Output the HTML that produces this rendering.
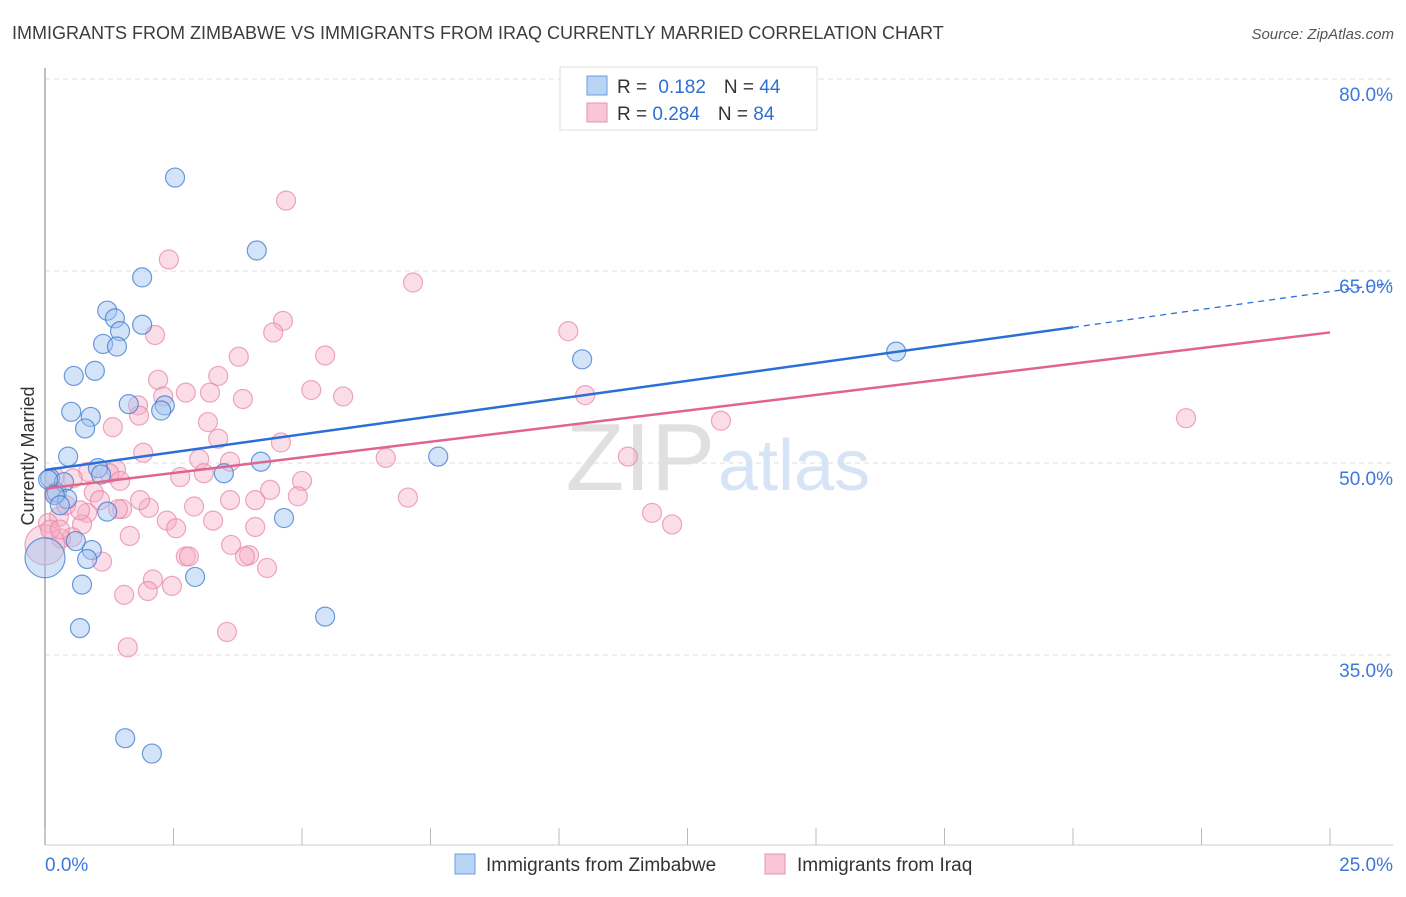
<!DOCTYPE html>
<html><head><meta charset="utf-8">
<style>
body{margin:0;background:#fff;font-family:"Liberation Sans",sans-serif;}
svg text{font-family:"Liberation Sans",sans-serif;}
</style></head>
<body>
<svg id="chart" width="1406" height="892" xmlns="http://www.w3.org/2000/svg">
<text x="12" y="39" font-size="18" fill="#3c3c3c">IMMIGRANTS FROM ZIMBABWE VS IMMIGRANTS FROM IRAQ CURRENTLY MARRIED CORRELATION CHART</text>
<text x="1394" y="39" font-size="15" font-style="italic" fill="#555" text-anchor="end">Source: ZipAtlas.com</text>
<g id="grid"></g>
<text x="715" y="490" font-size="96" fill="#e0e0e0" text-anchor="end" font-family="Liberation Serif">ZIP</text>
<text x="718" y="490" font-size="72" fill="#d6e4f5">atlas</text>
<line x1="45" y1="68" x2="45" y2="845" stroke="#aaa" stroke-width="1.5"/>
<line x1="45" y1="845" x2="1393" y2="845" stroke="#ccc" stroke-width="1"/>
<text transform="translate(34,456) rotate(-90)" font-size="18" fill="#333" text-anchor="middle">Currently Married</text>
<g id="ticks"></g>
<g id="points"></g>
<g id="trends"></g>
<g>
<rect x="560" y="67" width="257" height="63" fill="#fff" stroke="#ddd"/>
<rect x="587" y="76" width="20" height="19" fill="#b8d4f5" stroke="#6b9de0"/>
<rect x="587" y="103" width="20" height="19" fill="#f9c6d5" stroke="#e892ad"/>
<text x="617" y="93" font-size="19" fill="#333">R = <tspan fill="#2f6fd3" dx="6">0.182</tspan><tspan dx="18" fill="#333">N = </tspan><tspan fill="#2f6fd3">44</tspan></text>
<text x="617" y="120" font-size="19" fill="#333">R = <tspan fill="#2f6fd3">0.284</tspan><tspan dx="18" fill="#333">N = </tspan><tspan fill="#2f6fd3">84</tspan></text>
</g>
<g>
<rect x="455" y="854" width="20" height="20" fill="#b8d4f5" stroke="#6b9de0"/>
<text x="486" y="871" font-size="19" fill="#333">Immigrants from Zimbabwe</text>
<rect x="765" y="854" width="20" height="20" fill="#f9c6d5" stroke="#e892ad"/>
<text x="797" y="871" font-size="19" fill="#333">Immigrants from Iraq</text>
</g>
</svg>
<script>
const blueX=[2.53,4.12,1.89,1.21,1.36,1.46,1.89,1.13,1.40,0.97,0.56,1.63,2.33,2.26,0.51,0.89,0.78,0.45,1.03,1.09,4.20,3.48,0.10,0.23,0.37,0.43,1.21,4.65,0.60,0.91,0.82,2.92,0.72,0.68,5.45,1.56,2.08,10.45,7.65,16.56,0,0.06,0.19,0.29];
const blueY=[72.3,66.6,64.5,61.9,61.3,60.3,60.8,59.3,59.1,57.2,56.8,54.6,54.5,54.1,54.0,53.6,52.7,50.5,49.6,49.1,50.1,49.2,48.8,47.7,48.5,47.2,46.2,45.7,43.9,43.2,42.5,41.1,40.5,37.1,38.0,28.5,27.3,58.1,50.5,58.7,42.6,48.7,47.5,46.7];
const pinkX=[4.69,2.41,7.16,4.63,4.44,2.14,10.18,3.77,5.45,3.37,2.20,2.74,3.21,5.18,2.30,3.85,5.80,10.51,1.81,1.83,3.17,1.32,13.15,22.20,3.37,4.59,1.91,3.00,3.60,6.63,11.34,1.38,0.84,1.25,3.09,2.63,5.00,0.54,0.95,0.19,4.92,7.06,4.09,2.90,2.02,1.50,1.42,0.82,0.27,0.06,2.37,0.72,2.55,3.27,4.09,1.65,0.53,0.31,3.62,2.74,2.80,3.97,3.89,4.32,1.11,2.10,2.00,1.54,2.47,3.54,1.61,11.81,12.20,0,0.10,0.29,0.41,1.07,1.85,3.60,4.38,1.46,0.68,0.19];
const pinkY=[70.5,65.9,64.1,61.1,60.2,60.0,60.3,58.3,58.4,56.8,56.5,55.5,55.5,55.7,55.2,55.0,55.2,55.3,54.5,53.7,53.2,52.8,53.3,53.5,51.9,51.6,50.8,50.3,50.1,50.4,50.5,49.5,49.3,49.2,49.2,48.9,48.6,48.8,47.7,47.7,47.4,47.3,47.1,46.6,46.5,46.4,46.4,46.1,45.8,45.3,45.5,45.2,44.9,45.5,45.0,44.3,44.2,44.1,43.6,42.7,42.7,42.8,42.7,41.8,42.3,40.9,40.0,39.7,40.4,36.8,35.6,46.1,45.2,43.6,44.8,44.8,46.7,47.1,47.1,47.1,47.9,48.6,46.3,48.9];
const yTicks=[35,50,65,80];
const yTickLabels=["35.0%","50.0%","65.0%","80.0%"];
const xTicks=[0,2.5,5,7.5,10,12.5,15,17.5,20,22.5,25];
const xEndLabels=["0.0%","25.0%"];
const blueTrend=[49.45,60.6]; // y at x=0 and x=20
const pinkTrend=[48.0,60.2];  // y at x=0 and x=25
const NS="http://www.w3.org/2000/svg";
const sx=v=>45+v*51.4;
const sy=v=>463-(v-50)*12.8;
function mk(tag,attrs,parent){const e=document.createElementNS(NS,tag);for(const k in attrs)e.setAttribute(k,attrs[k]);parent.appendChild(e);return e;}
const grid=document.getElementById('grid'),ticks=document.getElementById('ticks');
yTicks.forEach((t,i)=>{
 const l=mk('line',{x1:45,x2:1393,y1:sy(t),y2:sy(t),stroke:'#ddd','stroke-dasharray':'5,4'},grid);
 
 
 const tx=mk('text',{x:1393,y:sy(t)+22,'font-size':19,fill:'#3c78d8','text-anchor':'end'},ticks);
 tx.textContent=yTickLabels[i];
 
 
});
xTicks.forEach(t=>{
 const l=mk('line',{x1:sx(t),x2:sx(t),y1:828,y2:845,stroke:'#bbb'},ticks);
 
 
});
[[0,'start'],[25,'end']].forEach((p,i)=>{
 const tx=mk('text',{x:i?1393:45,y:871,'font-size':19,fill:'#3c78d8','text-anchor':p[1]},ticks);
 tx.textContent=xEndLabels[i];
 
 
});
const pts=document.getElementById('points');
pinkX.forEach((x,i)=>{
 const r=(x===0)?20:9.5;
 const c=mk('circle',{cx:sx(x),cy:sy(pinkY[i]),r:r,fill:'rgba(246,170,195,0.4)',stroke:'rgba(232,130,165,0.7)','stroke-width':1.2},pts);
 
 
});
blueX.forEach((x,i)=>{
 const r=(x===0)?20:9.5;
 const c=mk('circle',{cx:sx(x),cy:sy(blueY[i]),r:r,fill:'rgba(160,196,240,0.45)',stroke:'rgba(60,120,210,0.75)','stroke-width':1.2},pts);
 
 
});
const tr=document.getElementById('trends');
const bSlope=(blueTrend[1]-blueTrend[0])/20;
const b1=mk('line',{x1:sx(0),y1:sy(blueTrend[0]),x2:sx(20),y2:sy(blueTrend[1]),stroke:'#2a6fd6','stroke-width':2.5},tr);


const b2=mk('line',{x1:sx(20),y1:sy(blueTrend[1]),x2:sx(26.2),y2:sy(blueTrend[0]+bSlope*26.2),stroke:'#2a6fd6','stroke-width':1.3,'stroke-dasharray':'6,5'},tr);


const p1=mk('line',{x1:sx(0),y1:sy(pinkTrend[0]),x2:sx(25),y2:sy(pinkTrend[1]),stroke:'#e0648f','stroke-width':2.5},tr);


</script>
</body></html>
